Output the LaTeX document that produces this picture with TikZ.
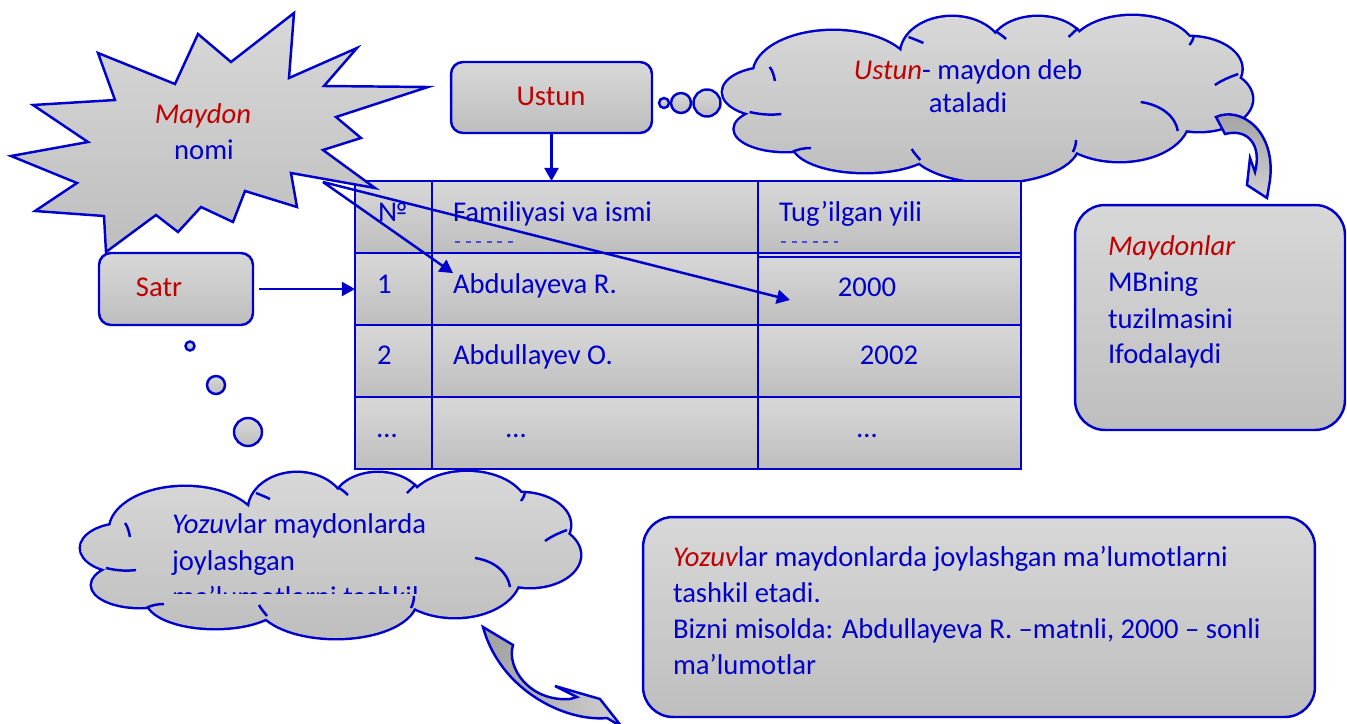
\documentclass[tikz,border=0pt]{standalone}
\usepackage{fontspec}
\setmainfont{Carlito}
\usetikzlibrary{arrows.meta}
\definecolor{lnblue}{RGB}{0,0,204}
\definecolor{txblue}{RGB}{0,0,200}
\definecolor{txred}{RGB}{192,0,0}
\definecolor{gtop}{RGB}{216,216,216}
\definecolor{gbot}{RGB}{190,190,190}
\definecolor{adark}{RGB}{160,160,160}
\definecolor{alight}{RGB}{208,208,208}
\newcommand\mycloudshape{%
  \draw[draw=lnblue,line width=2.8pt]
    (45,77) ellipse [x radius=44,y radius=24]
    (60,114) ellipse [x radius=48,y radius=22]
    (135,129) ellipse [x radius=68,y radius=28]
    (256,129) ellipse [x radius=80,y radius=38]
    (375,104) ellipse [x radius=65,y radius=42]
    (450,84) ellipse [x radius=50,y radius=32]
    (440,54) ellipse [x radius=50,y radius=32]
    (387,39) ellipse [x radius=60,y radius=38]
    (298,34) ellipse [x radius=45,y radius=32]
    (217,39) ellipse [x radius=48,y radius=37]
    (105,59) ellipse [x radius=75,y radius=43];
  \shade[top color=gtop,bottom color=gbot]
    (45,77) ellipse [x radius=44,y radius=24]
    (60,114) ellipse [x radius=48,y radius=22]
    (135,129) ellipse [x radius=68,y radius=28]
    (256,129) ellipse [x radius=80,y radius=38]
    (375,104) ellipse [x radius=65,y radius=42]
    (450,84) ellipse [x radius=50,y radius=32]
    (440,54) ellipse [x radius=50,y radius=32]
    (387,39) ellipse [x radius=60,y radius=38]
    (298,34) ellipse [x radius=45,y radius=32]
    (217,39) ellipse [x radius=48,y radius=37]
    (105,59) ellipse [x radius=75,y radius=43]
    (250,84) ellipse [x radius=200,y radius=45];
  \draw[draw=lnblue,line width=1.4pt]
    (395,87) .. controls (415,90) and (428,102) .. (430,116)
    (26,97) .. controls (38,100) and (48,100) .. (56,99)
    (45,52) .. controls (48,56) and (49,61) .. (50,66)
    (66,137) .. controls (72,134) and (78,133) .. (84,133)
    (187,145) .. controls (184,141) and (181,138) .. (179,134)
    (331,137) .. controls (333,133) and (334,129) .. (334,125)
    (465,70) .. controls (472,65) and (479,62) .. (487,59)
    (445,22) .. controls (444,25) and (443,28) .. (441,30)
    (336,13) .. controls (333,16) and (330,19) .. (327,22)
    (258,16) .. controls (262,19) and (265,21) .. (268,24)
    (176,22) .. controls (181,24) and (186,26) .. (190,28);
}
\begin{document}
\begin{tikzpicture}[x=0.02cm,y=-0.02cm,
  every node/.style={inner sep=0pt,outer sep=0pt,font=\fontsize{16.3}{20.4}\selectfont,text=txblue},
  outl/.style={draw=lnblue,line width=1.4pt},
  shd/.style={top color=gtop,bottom color=gbot},
  cellst/.style={outl,shd,rectangle,minimum height=1.44cm},
  arr/.style={draw=lnblue,line width=1.4pt,-{Triangle[length=7.5pt,width=8pt]}},
  txt/.style={anchor=base west},
  txc/.style={anchor=base},
  bub/.style={outl,shd,circle}]
\useasboundingbox (0,0) rectangle (1347,724);

% clouds
\begin{scope}[shift={(722,15)},xscale=1.06]
  \mycloudshape
\end{scope}
\begin{scope}[shift={(80,471)}]
  \mycloudshape
\end{scope}

% curved arrows
\path[outl,top color=adark,bottom color=alight]
  (1216,117) .. controls (1240,106) and (1276,130) .. (1270,180)
  -- (1267,198) -- (1247,185) -- (1250,158) -- (1255,172)
  .. controls (1262,145) and (1248,128) .. (1225,134) -- cycle;
\path[outl,left color=adark,right color=alight]
  (483,627) -- (513,645) .. controls (506,668) and (530,702) .. (570,699)
  -- (577,697) -- (555,686) -- (600,699) -- (622,727) -- (607,718)
  .. controls (565,722) and (500,690) .. (483,627) -- cycle;

% boxes
\node[outl,shd,rectangle,rounded corners=0.24cm,minimum width=4.02cm,minimum height=1.42cm] (ustun) at (551.5,97.5) {};
\node[outl,shd,rectangle,rounded corners=0.24cm,minimum width=3.08cm,minimum height=1.44cm] (satr) at (176,289) {};
\node[outl,shd,rectangle,rounded corners=0.6cm,minimum width=5.4cm,minimum height=4.5cm] (mbox) at (1210,317.5) {};
\node[outl,shd,rectangle,rounded corners=0.6cm,minimum width=13.44cm,minimum height=4cm] (ybox) at (979,617) {};

% table
\node[cellst,minimum width=1.54cm] (c11) at (393.5,217) {};
\node[cellst,minimum width=6.52cm] (c12) at (595,217) {};
\node[cellst,minimum width=5.26cm] (c13) at (889.5,217) {};
\node[cellst,minimum width=1.54cm] (c21) at (393.5,289) {};
\node[cellst,minimum width=6.52cm] (c22) at (595,289) {};
\node[cellst,minimum width=5.26cm] (c23) at (889.5,289) {};
\node[cellst,minimum width=5.26cm,minimum height=1.36cm] (c23b) at (889.5,291) {};
\node[cellst,minimum width=1.54cm] (c31) at (393.5,361) {};
\node[cellst,minimum width=6.52cm] (c32) at (595,361) {};
\node[cellst,minimum width=5.26cm] (c33) at (889.5,361) {};
\node[cellst,minimum width=1.54cm] (c41) at (393.5,433) {};
\node[cellst,minimum width=6.52cm] (c42) at (595,433) {};
\node[cellst,minimum width=5.26cm] (c43) at (889.5,433) {};

% starburst
\path[outl,shd] (98,53) -- (175,84) -- (198,34) -- (231,62) -- (294,13) -- (289,78)
  -- (357,48) -- (324,86) -- (428,87) -- (336,117) -- (361,138) -- (323,150)
  -- (375,188) -- (291,173) -- (297,207) -- (245,191) -- (233,222) -- (201,207)
  -- (178,232) -- (156,215) -- (106,252) -- (104,216) -- (35,211) -- (77,183)
  -- (11,156) -- (88,142) -- (33,105) -- (115,100) -- cycle;
\coordinate (spk) at (323,182);

% thought bubbles
\node[bub,minimum size=0.18cm] (b1) at (190,346) {};
\node[bub,minimum size=0.36cm] (b2) at (216,385) {};
\node[bub,minimum size=0.56cm] (b3) at (248,432) {};
\node[bub,minimum size=0.2cm] (u1) at (664,103) {};
\node[bub,minimum size=0.4cm] (u2) at (681,103) {};
\node[bub,minimum size=0.54cm] (u3) at (707,103) {};

% texts
\node[txc,text=txred] (ustt) at (551,105) {Ustun};
\node[txc,text=txred] (satt) at (159,296) {Satr};
\node[txc,text=txred] (mayt) at (203,123) {\itshape Maydon};
\node[txc] (nomt) at (204,159) {nomi};

\node[txt] (h1t) at (378,221) {№};
\node[txt] (h2t) at (453,221) {Familiyasi va ismi};
\node[txt] (h3t) at (779,221) {Tug’ilgan yili};
\draw[txblue!70,line width=0.7pt,dash pattern=on 3pt off 3pt] (455,242) -- (513,242);
\draw[txblue!70,line width=0.7pt,dash pattern=on 3pt off 3pt] (781,242) -- (838,242);
\node[txt] (r1a) at (377,293) {1};
\node[txt] (r1b) at (453,293) {Abdulayeva R.};
\node[txc] (r1c) at (867,296) {2000};
\node[txt] (r2a) at (377,364) {2};
\node[txt] (r2b) at (453,364) {Abdullayev O.};
\node[txc] (r2c) at (889,364) {2002};
\node[txt] (r3a) at (377,437) {…};
\node[txc] (r3b) at (516,437) {…};
\node[txc] (r3c) at (867,437) {…};
\coordinate (c2000in) at (790,300);

\node[txc] (cl1a) at (968,79) {{\color{txred}\itshape Ustun}- maydon deb};
\node[txc] (cl1b) at (968,112) {ataladi};

\node[txt,text=txred] (m1) at (1108,255) {\itshape Maydonlar};
\node[txt] (m2) at (1108,291) {MBning};
\node[txt] (m3) at (1108,328) {tuzilmasini};
\node[txt] (m4) at (1108,363) {Ifodalaydi};

\node[txt] (y1) at (673,566) {{\color{txred}\itshape Yozuv}lar maydonlarda joylashgan ma’lumotlarni};
\node[txt] (y2) at (673,602) {tashkil etadi.};
\node[txt] (y3) at (673,638) {Bizni misolda: Abdullayeva R. –matnli, 2000 – sonli};
\node[txt] (y4) at (673,674) {ma’lumotlar};

\node[txt] (z1) at (172,533) {{\itshape Yozuv}lar maydonlarda};
\node[txt] (z2) at (172,570) {joylashgan};
\begin{scope}
  \clip (0,0) rectangle (1347,593);
  \node[txt] (z3) at (172,606) {ma’lumotlarni tashkil};
\end{scope}

% connectors
\draw[arr] (ustun.south) -- (ustun.south |- c12.north);
\draw[arr,shorten <=0.12cm] (satr.east) -- (c21.west);
\draw[arr] (spk) -- (r1b.north west);
\draw[arr] (spk) -- (c2000in);
\end{tikzpicture}
\end{document}
